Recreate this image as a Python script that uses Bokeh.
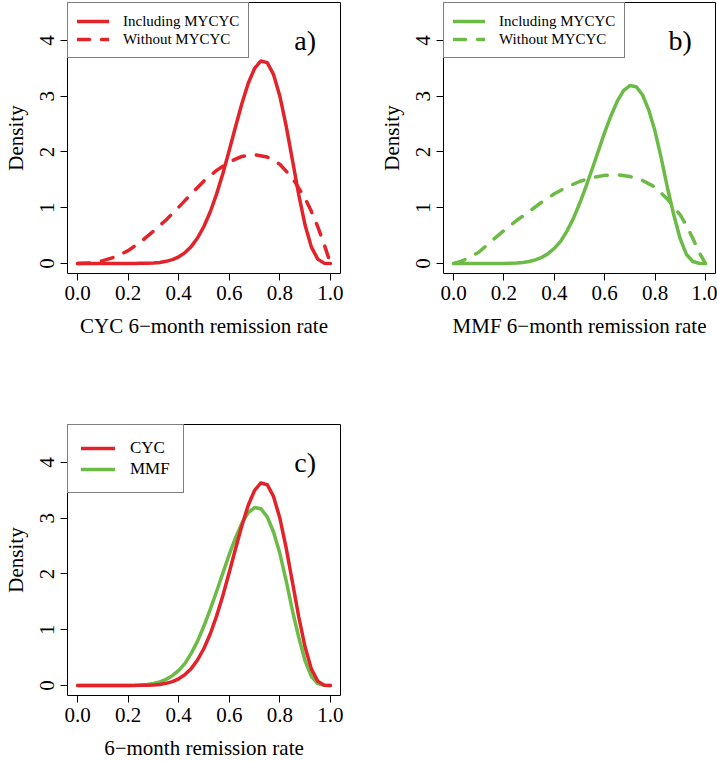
from bokeh.plotting import figure
from bokeh.layouts import column, row
from bokeh.models import FixedTicker, NumeralTickFormatter, Label, Range1d, Legend, LegendItem
from bokeh.embed import file_html
from bokeh.resources import INLINE

# ---------------- data ----------------
# fine grid for the narrow "including MYCYC" curves
X_FINE = [0.0, 0.025, 0.05, 0.075, 0.1, 0.125, 0.15, 0.175, 0.2, 0.225,
          0.25, 0.275, 0.3, 0.325, 0.35, 0.375, 0.4, 0.425, 0.45, 0.475,
          0.5, 0.525, 0.55, 0.575, 0.6, 0.625, 0.65, 0.675, 0.7, 0.725,
          0.75, 0.775, 0.8, 0.825, 0.85, 0.875, 0.9, 0.925, 0.95, 0.975, 1.0]

CYC_INCL = [0.0, 0.0, 0.0, 0.0, 0.0, 0.0, 0.0, 0.0001, 0.0002, 0.0006,
            0.0017, 0.0041, 0.0093, 0.019, 0.038, 0.069, 0.119, 0.195, 0.306, 0.461,
            0.667, 0.928, 1.248, 1.618, 2.029, 2.455, 2.868, 3.231, 3.497, 3.632,
            3.602, 3.390, 3.003, 2.467, 1.851, 1.228, 0.685, 0.293, 0.078, 0.006, 0.0]

MMF_INCL = [0.0, 0.0, 0.0, 0.0, 0.0, 0.0, 0.0001, 0.0005, 0.0015, 0.0039,
            0.009, 0.0186, 0.036, 0.064, 0.109, 0.175, 0.270, 0.397, 0.58, 0.80,
            1.07, 1.37, 1.69, 2.02, 2.35, 2.65, 2.91, 3.10, 3.19, 3.17,
            3.025, 2.752, 2.370, 1.88, 1.34, 0.86, 0.44, 0.16, 0.035, 0.003, 0.0]

# coarser grid for the broad "without MYCYC" curves
X_CYC_WO = [0.0, 0.05, 0.1, 0.15, 0.2, 0.25, 0.3, 0.35, 0.4, 0.45, 0.5, 0.55,
            0.6, 0.65, 0.7, 0.75, 0.8, 0.85, 0.9, 0.925, 0.95, 0.975, 1.0]
CYC_WO = [0.0, 0.01, 0.05, 0.12, 0.23, 0.39, 0.58, 0.78, 1.01, 1.25, 1.48, 1.67,
          1.82, 1.92, 1.95, 1.91, 1.78, 1.53, 1.17, 0.93, 0.66, 0.35, 0.0]

X_MMF_WO = [0.0, 0.025, 0.05, 0.1, 0.15, 0.2, 0.25, 0.3, 0.35, 0.4, 0.45, 0.5,
            0.55, 0.6, 0.65, 0.7, 0.75, 0.8, 0.85, 0.9, 0.925, 0.95, 0.975, 1.0]
MMF_WO = [0.0, 0.03, 0.08, 0.2, 0.4, 0.59, 0.77, 0.93, 1.1, 1.25, 1.37, 1.47,
          1.54, 1.58, 1.59, 1.56, 1.49, 1.37, 1.15, 0.87, 0.68, 0.45, 0.2, 0.0]

X_TICKS = [0.0, 0.2, 0.4, 0.6, 0.8, 1.0]
Y_TICKS = [0, 1, 2, 3, 4]

RED = "#E3222A"
GREEN = "#6CBB46"
FONT = "Liberation Serif"


def make_panel(xlabel, letter, curves, legend_style, fw, fh, bl, br, bt, bb):
    p = figure(frame_width=fw, frame_height=fh,
               x_range=Range1d(-0.04, 1.04), y_range=Range1d(-0.18, 4.68),
               output_backend="svg", toolbar_location=None,
               min_border_left=bl, min_border_right=br,
               min_border_top=bt, min_border_bottom=bb)
    p.grid.visible = False
    p.outline_line_color = "black"
    p.outline_line_width = 1
    p.background_fill_color = "white"
    p.border_fill_color = "white"

    p.xaxis.ticker = FixedTicker(ticks=X_TICKS)
    p.xaxis.formatter = NumeralTickFormatter(format="0.0")
    p.yaxis.ticker = FixedTicker(ticks=Y_TICKS)
    p.yaxis.major_label_orientation = "vertical"
    for ax in (p.xaxis[0], p.yaxis[0]):
        ax.axis_line_color = None
        ax.minor_tick_line_color = None
        ax.major_tick_in = 0
        ax.major_tick_out = 7
        ax.major_tick_line_color = "black"
        ax.major_label_text_font = FONT
        ax.major_label_text_font_size = "21px"
        ax.major_label_text_color = "black"
        ax.axis_label_text_font = FONT
        ax.axis_label_text_font_size = "21px"
        ax.axis_label_text_font_style = "normal"
        ax.axis_label_text_color = "black"
    p.xaxis.axis_label = xlabel
    p.xaxis.major_label_standoff = 5
    p.xaxis.axis_label_standoff = 11
    p.yaxis.axis_label = "Density"
    p.yaxis.major_label_standoff = 6
    p.yaxis.axis_label_standoff = 10

    items = []
    for (xs, ys, col, dash, name) in curves:
        r = p.line(xs, ys, line_color=col, line_width=3.5, line_dash=dash,
                   line_cap="round", line_join="round")
        items.append((name, r))
    order = legend_style["order"]
    legend = Legend(items=[LegendItem(label=items[i][0], renderers=[items[i][1]]) for i in order],
                    location="top_left", margin=0,
                    padding=legend_style["padding"], spacing=legend_style["spacing"],
                    glyph_width=legend_style["glyph_width"],
                    glyph_height=legend_style["row"], label_height=legend_style["row"],
                    label_standoff=legend_style["standoff"],
                    label_text_font=FONT, label_text_font_size=legend_style["font"],
                    label_text_color="black",
                    border_line_color="black", border_line_width=1,
                    background_fill_color="white", background_fill_alpha=1.0)
    p.add_layout(legend, "center")

    p.add_layout(Label(x=0.9, y=4.0, text=letter, text_align="center",
                       text_baseline="middle", text_font=FONT,
                       text_font_size="28px", text_color="black"))
    return p


style_ab = dict(order=[0, 1], padding=9, spacing=0, glyph_width=32, row=18,
                standoff=14, font="15px")
style_c = dict(order=[1, 0], padding=13, spacing=1, glyph_width=34, row=20,
               standoff=15, font="17px")

pa = make_panel("CYC 6\u2212month remission rate", "a)",
                [(X_FINE, CYC_INCL, RED, "solid", "Including MYCYC"),
                 (X_CYC_WO, CYC_WO, RED, "12 12", "Without MYCYC")],
                style_ab, 273, 271, 67, 30, 2, 67)
pb = make_panel("MMF 6\u2212month remission rate", "b)",
                [(X_FINE, MMF_INCL, GREEN, "solid", "Including MYCYC"),
                 (X_MMF_WO, MMF_WO, GREEN, "12 12", "Without MYCYC")],
                style_ab, 272, 271, 73, 2, 2, 67)
pc = make_panel("6\u2212month remission rate", "c)",
                [(X_FINE, MMF_INCL, GREEN, "solid", "MMF"),
                 (X_FINE, CYC_INCL, RED, "solid", "CYC")],
                style_c, 273, 271, 67, 30, 84, 66)

layout = column(row(pa, pb), row(pc))
open("out.html", "w").write(file_html(layout, INLINE))
